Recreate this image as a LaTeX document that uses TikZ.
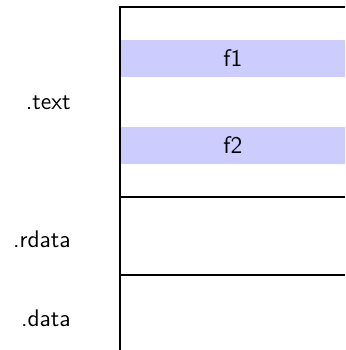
\documentclass[tikz,border=0pt]{standalone}
\usepackage{tikz}
\usetikzlibrary{positioning}
\definecolor{FuncBlue}{HTML}{CCCCFF}
\tikzset{
    % section names on the left
    seclabel/.style={
        anchor=east,
        inner sep=0pt,
        font=\sffamily\large
    },
    % function blocks inside .text
    funcbox/.style={
        rectangle,
        draw=none,
        fill=FuncBlue,
        anchor=west,
        minimum width=112.5pt,
        minimum height=18.5pt,
        inner sep=0pt,
        font=\sffamily\large
    },
    % section borders
    secline/.style={
        draw=black,
        line width=1.2pt
    }
}
\begin{document}
\begin{tikzpicture}[x=0.5pt, y=0.5pt]
    \useasboundingbox (0,0) rectangle (345,350);

    \node[funcbox] (f1) at (120,291.5) {f1};
    \node[funcbox] (f2) at (120,204.5) {f2};

    \draw[secline] (345,343) -- (120,343) -- (120,0);
    \draw[secline] (120,153) -- (345,153);
    \draw[secline] (120,75) -- (345,75);

    \node[seclabel] (text) at (71,247) {.text};
    \node[seclabel] (rdata) at (71,111) {.rdata};
    \node[seclabel] (data) at (71,32) {.data};
\end{tikzpicture}
\end{document}
